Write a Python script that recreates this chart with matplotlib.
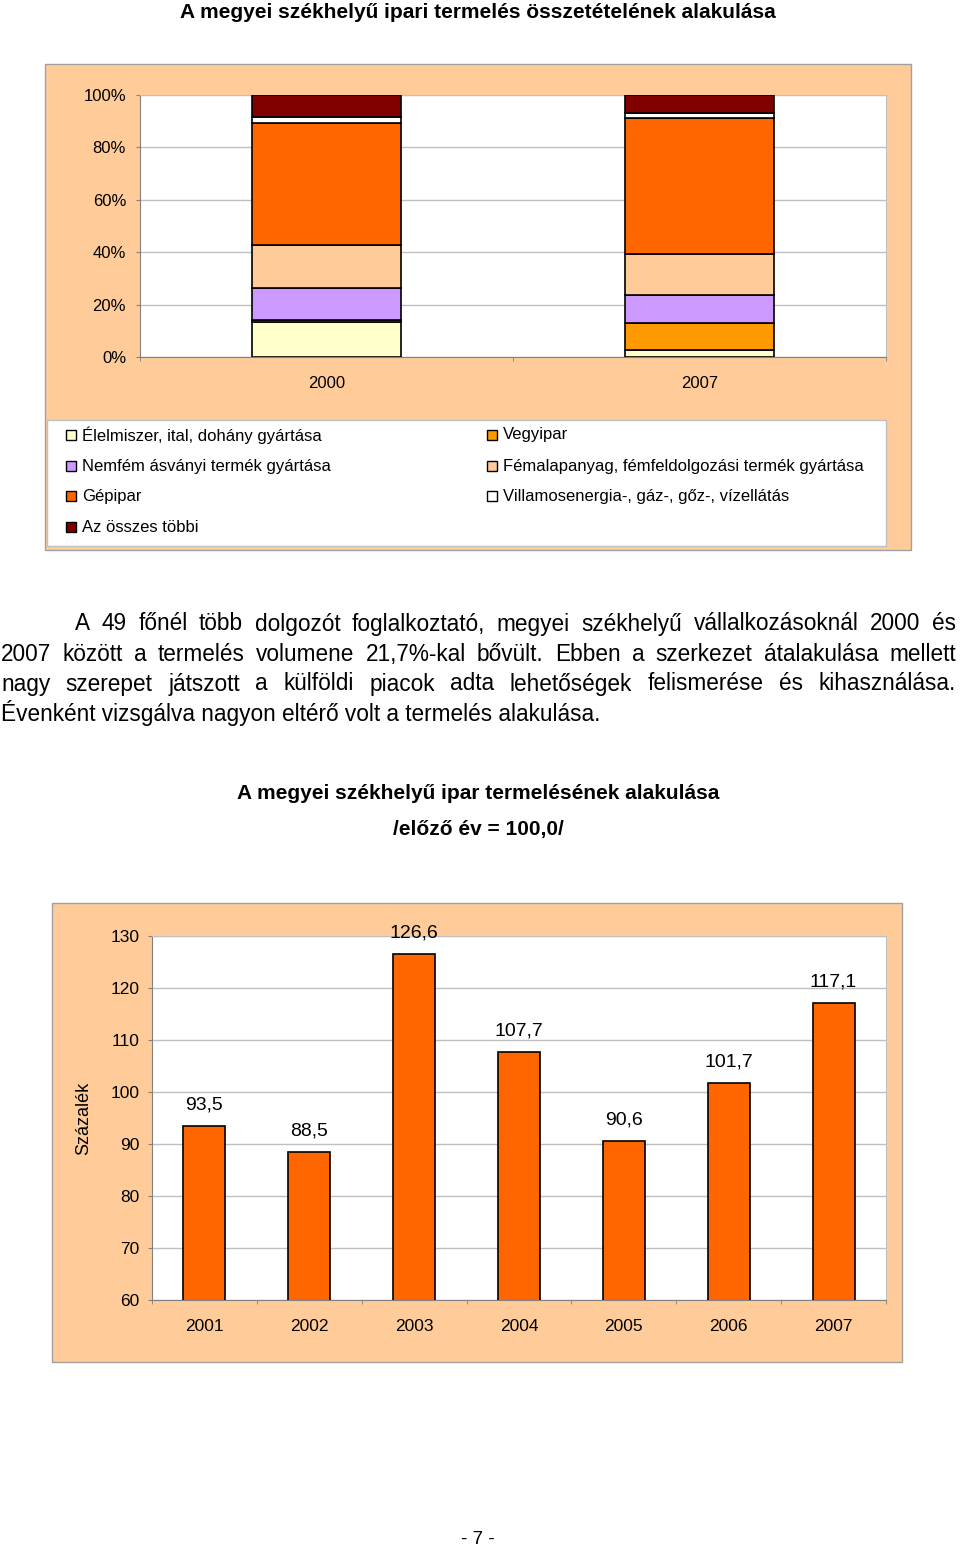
import matplotlib
matplotlib.use("Agg")
import matplotlib.pyplot as plt
from matplotlib.patches import Rectangle
import numpy as np

plt.rcParams['font.family'] = ['Liberation Sans', 'DejaVu Sans']

# ---------------- data ----------------
years1 = ['2000', '2007']
series_names = ['Élelmiszer, ital, dohány gyártása', 'Vegyipar',
                'Nemfém ásványi termék gyártása',
                'Fémalapanyag, fémfeldolgozási termék gyártása',
                'Gépipar', 'Villamosenergia-, gáz-, gőz-, vízellátás',
                'Az összes többi']
elelmiszer = [13.5, 2.7]
vegyipar = [0.5, 10.2]
nemfem = [12.5, 10.8]
femalap = [16.1, 15.6]
gepipar = [46.9, 52.1]
villamos = [2.2, 1.8]
tobbi = [8.3, 6.8]
series_colors = ['#FFFFCC', '#FF9900', '#CC99FF', '#FFCC99', '#FF6600', '#FFFFFF', '#800000']
pct_ticks = [0, 20, 40, 60, 80, 100]

years2 = ['2001', '2002', '2003', '2004', '2005', '2006', '2007']
index_values = [93.5, 88.5, 126.6, 107.7, 90.6, 101.7, 117.1]
y2_ticks = [60, 70, 80, 90, 100, 110, 120, 130]

W, H = 960, 1547
fig = plt.figure(figsize=(W / 100, H / 100), dpi=100)
fig.patch.set_facecolor('white')


def fx(x):
    return x / W


def fy(y):
    return 1 - y / H


def frect(x0, y0, x1, y1, **kw):
    r = Rectangle((fx(x0), fy(y1)), (x1 - x0) / W, (y1 - y0) / H,
                  transform=fig.transFigure, **kw)
    fig.add_artist(r)
    return r


PEACH = '#FFCC99'
GRID = '#C0C0C0'

# ---------------- chart 1 ----------------
fig.text(fx(478), fy(12), 'A megyei székhelyű ipari termelés összetételének alakulása',
         ha='center', va='center', fontsize=15, fontweight='bold')
frect(45, 64, 911, 550, facecolor=PEACH, edgecolor='#A0A0A0', lw=1, zorder=-10)
frect(47, 420, 886, 546, facecolor='white', edgecolor='#C0C0C0', lw=1, zorder=-9)

ax1 = fig.add_axes([fx(140), fy(357), 746 / W, 262 / H])
ax1.set_facecolor('white')
x1 = np.arange(len(years1))
stack = [elelmiszer, vegyipar, nemfem, femalap, gepipar, villamos, tobbi]
bottom = np.zeros(len(years1))
for vals, col, name in zip(stack, series_colors, series_names):
    ax1.bar(x1, vals, 0.4, bottom=bottom, color=col, edgecolor='black', lw=1.2,
            label=name, zorder=3)
    bottom += np.array(vals)
ax1.set_xlim(-0.5, 1.5)
ax1.set_ylim(0, 100)
ax1.set_yticks(pct_ticks)
ax1.set_yticklabels([f'{t}%' for t in pct_ticks], fontsize=12)
ax1.yaxis.grid(True, color=GRID, lw=1)
ax1.set_axisbelow(True)
ax1.set_xticks(x1)
ax1.set_xticklabels(years1, fontsize=12)
ax1.set_xticks([-0.5, 0.5, 1.5], minor=True)
ax1.tick_params(axis='x', which='major', length=0, pad=14)
ax1.tick_params(axis='x', which='minor', length=3, color='#808080')
ax1.tick_params(axis='y', length=3, color='#808080', pad=7)
for s in ['top', 'right']:
    ax1.spines[s].set_color(GRID)
for s in ['left', 'bottom']:
    ax1.spines[s].set_color('#808080')

# legend (row-major, two columns)
leg_pos = [(66, 435), (487, 435), (66, 466), (487, 466), (66, 496), (487, 496), (66, 527)]
for (lx, ly), col, name in zip(leg_pos, series_colors, series_names):
    frect(lx, ly - 5, lx + 10, ly + 5, facecolor=col, edgecolor='black', lw=1, zorder=5)
    fig.text(fx(lx + 16), fy(ly), name, ha='left', va='center', fontsize=12)

# ---------------- paragraph ----------------
renderer = fig.canvas.get_renderer()
PFS = 16.3
lines = [
    (75, 'A 49 főnél több dolgozót foglalkoztató, megyei székhelyű vállalkozásoknál 2000 és', True),
    (1, '2007 között a termelés volumene 21,7%-kal bővült. Ebben a szerkezet átalakulása mellett', True),
    (1, 'nagy szerepet játszott a külföldi piacok adta lehetőségek felismerése és kihasználása.', True),
    (1, 'Évenként vizsgálva nagyon eltérő volt a termelés alakulása.', False),
]
line_y = [624, 654, 684, 713]
for (x0, txt, just), yy in zip(lines, line_y):
    if not just:
        fig.text(fx(x0), fy(yy), txt, ha='left', va='center', fontsize=PFS)
        continue
    words = txt.split(' ')
    objs = [fig.text(0, fy(yy), w, ha='left', va='center', fontsize=PFS) for w in words]
    widths = [o.get_window_extent(renderer).width for o in objs]
    gap = (956 - x0 - sum(widths)) / (len(words) - 1)
    cx = x0
    for o, w in zip(objs, widths):
        o.set_x(fx(cx))
        cx += w + gap

# ---------------- chart 2 ----------------
fig.text(fx(478), fy(794), 'A megyei székhelyű ipar termelésének alakulása',
         ha='center', va='center', fontsize=15, fontweight='bold')
fig.text(fx(478), fy(830), '/előző év = 100,0/',
         ha='center', va='center', fontsize=15, fontweight='bold')
frect(52, 903, 902, 1362, facecolor=PEACH, edgecolor='#A0A0A0', lw=1, zorder=-10)

ax2 = fig.add_axes([fx(152), fy(1300), 734 / W, 364 / H])
ax2.set_facecolor('white')
x2 = np.arange(len(years2))
bars = ax2.bar(x2, index_values, 0.4, bottom=0, color='#FF6600', edgecolor='black',
               lw=1.2, zorder=3)
for xi, v in zip(x2, index_values):
    ax2.annotate(f'{v:.1f}'.replace('.', ','), (xi, v), xytext=(0, 15),
                 textcoords='offset points', ha='center', va='center', fontsize=14)
ax2.set_xlim(-0.5, len(years2) - 0.5)
ax2.set_ylim(60, 130)
ax2.set_yticks(y2_ticks)
ax2.set_yticklabels([str(t) for t in y2_ticks], fontsize=12.5)
ax2.yaxis.grid(True, color=GRID, lw=1)
ax2.set_axisbelow(True)
ax2.set_xticks(x2)
ax2.set_xticklabels(years2, fontsize=12.5)
ax2.set_xticks(np.arange(-0.5, len(years2), 1.0), minor=True)
ax2.tick_params(axis='x', which='major', length=0, pad=14)
ax2.tick_params(axis='x', which='minor', length=3, color='#808080')
ax2.tick_params(axis='y', length=3, color='#808080', pad=6)
ax2.set_ylabel('Százalék', fontsize=13, labelpad=13)
for s in ['top', 'right']:
    ax2.spines[s].set_color(GRID)
for s in ['left', 'bottom']:
    ax2.spines[s].set_color('#808080')

fig.text(fx(478), fy(1540), '- 7 -', ha='center', va='center', fontsize=13.5)

fig.savefig('out.png', dpi=100)
